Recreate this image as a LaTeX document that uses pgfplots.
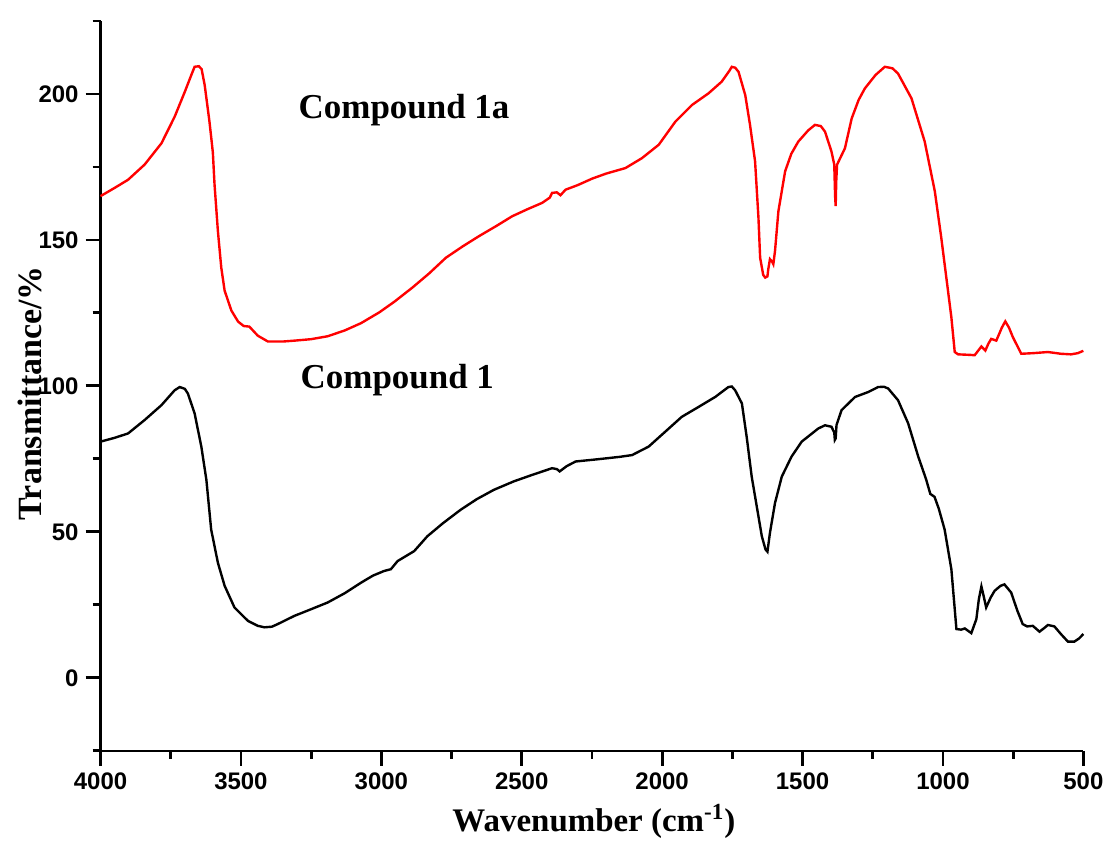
\documentclass[border=0pt]{standalone}
\usepackage{fontspec}
\setmainfont{Liberation Serif}
\setsansfont{Liberation Sans}
\usepackage{pgfplots}
\pgfplotsset{compat=1.18}
\begin{document}
\begin{tikzpicture}
\begin{axis}[
  name=ax,
  scale only axis,
  width=492.2pt, height=365.5pt,
  x dir=reverse,
  xmin=500, xmax=4000,
  ymin=-25, ymax=225,
  xtick={500,1000,...,4000},
  ytick={0,50,100,150,200},
  minor xtick={750,1250,...,3750},
  minor ytick={-25,25,75,125,175,225},
  axis x line*=bottom,
  axis y line*=left,
  axis line style={-, line width=1.1pt},
  tick align=outside,
  major tick length=7.5pt,
  minor tick length=4pt,
  every major tick/.append style={line width=1.4pt, draw=black},
  every minor tick/.append style={line width=1.4pt, draw=black},
  /pgf/number format/1000 sep={},
  /pgf/number format/assume math mode=true,
  tick label style={font=\fontsize{12}{14}\selectfont\bfseries\sffamily},
  xlabel={\textbf{Wavenumber (cm\textsuperscript{-1})}},
  ylabel={\textbf{Transmittance/\%}},
  xlabel style={font=\fontsize{16.5}{18}\selectfont, at={(axis description cs:0.502,-0.097)}, anchor=center},
  ylabel style={font=\fontsize{17}{19}\selectfont, at={(axis description cs:-0.072,0.49)}, anchor=center},
  clip=false,
]
\addplot[red, line width=1.2pt] coordinates {
(4000,165.0)(3950,167.8)(3902,170.6)(3843,175.8)(3783,183.1)(3736,192.2)(3700,200.7)(3677,206.4)(3665,209.3)(3650,209.5)(3640,208.5)(3629,203)(3612,190.5)(3600,180)(3594,169)(3582,153)(3570,140.5)(3558,132.6)(3534,125.8)(3510,122)(3490,120.5)(3470,120.3)(3440,117.2)(3404,115.2)(3350,115.2)(3309,115.5)(3250,116)(3191,117)(3130,119)(3072,121.5)(3007,125.2)(2954,128.8)(2889,133.7)(2830,138.5)(2770,143.9)(2710,147.8)(2652,151.3)(2590,154.8)(2534,158.1)(2480,160.5)(2427,162.7)(2400,164.5)(2392,166.1)(2375,166.3)(2362,165.3)(2344,167.2)(2300,168.8)(2249,171)(2200,172.7)(2131,174.6)(2072,178)(2012,182.6)(1953,190.5)(1894,196.2)(1835,200.2)(1788,204.2)(1760,208)(1752,209.3)(1740,209)(1728,207.6)(1704,199.6)(1687,189.4)(1669,176.9)(1657,157.6)(1651,143.9)(1640,138)(1633,137.1)(1625,137.5)(1622,140)(1616,143.4)(1608,142.5)(1604,141.7)(1598,146.2)(1586,159.8)(1562,173.5)(1540,179.5)(1515,183.7)(1480,187.5)(1456,189.4)(1435,189)(1420,187.1)(1397,180.3)(1387,175.8)(1384,165)(1382,161.6)(1380,170)(1377,175.8)(1349,181.4)(1325,191.6)(1300,198)(1278,201.9)(1240,206.5)(1207,209.3)(1180,208.8)(1160,207)(1112,198.5)(1065,183.7)(1029,166.7)(1006,150.8)(982,132.6)(970,123.5)(958,111.6)(946,110.8)(900,110.6)(887,110.5)(863,113.5)(849,112.1)(838,114.5)(828,116.1)(810,115.5)(790,120)(778,122.1)(765,120)(751,116.7)(721,111)(680,111.2)(626,111.6)(580,111)(544,110.8)(520,111.2)(500,112)
};
\addplot[black, line width=1.2pt] coordinates {
(4000,80.9)(3950,82.2)(3902,83.7)(3843,88.3)(3783,93.4)(3736,98.5)(3718,99.6)(3700,99)(3689,97.4)(3665,90.6)(3641,79.2)(3623,67.8)(3606,50.8)(3582,39.4)(3558,31.5)(3523,24.1)(3475,19.5)(3440,17.8)(3416,17.3)(3390,17.5)(3369,18.4)(3310,21.2)(3250,23.5)(3191,25.8)(3130,29)(3072,32.6)(3030,35)(2990,36.6)(2966,37.2)(2942,40)(2883,43.4)(2836,48.5)(2780,53)(2717,57.6)(2660,61.2)(2599,64.4)(2528,67.3)(2463,69.5)(2392,71.8)(2375,71.5)(2365,70.7)(2340,72.5)(2308,74.1)(2226,74.9)(2150,75.7)(2107,76.3)(2048,79.2)(1989,84.3)(1930,89.4)(1870,92.8)(1811,96.2)(1764,99.6)(1752,99.8)(1740,98.5)(1716,94)(1699,82.6)(1681,68.9)(1663,58.7)(1645,48.5)(1632,44)(1625,43.2)(1616,49.7)(1598,59.9)(1574,68.9)(1539,75.8)(1503,80.9)(1444,85.4)(1420,86.5)(1397,86)(1387,84)(1385,81.5)(1382,82)(1379,86.6)(1361,91.7)(1313,96.2)(1266,97.9)(1231,99.6)(1210,99.7)(1195,99.1)(1160,95.1)(1124,87.2)(1088,75.8)(1060,68)(1045,63)(1030,62)(1015,58)(994,50.8)(970,37.2)(952,16.7)(935,16.5)(922,16.9)(899,15.3)(881,20.1)(872,27)(863,31.3)(855,28)(846,24.1)(830,27.5)(816,29.8)(795,31.5)(781,32)(757,29.2)(735,23)(716,18.4)(700,17.6)(680,17.8)(656,15.8)(640,17)(626,18.1)(603,17.6)(580,15)(555,12.4)(532,12.4)(515,13.5)(500,15)
};
\node[font=\fontsize{17.5}{19}\selectfont\bfseries, anchor=center] at (axis cs:2919,194.6) {Compound 1a};
\node[font=\fontsize{17.5}{19}\selectfont\bfseries, anchor=center] at (axis cs:2943,101.9) {Compound 1};
\end{axis}
\path ([shift={(-50.35pt,-45pt)}]ax.south west) rectangle ([shift={(12.5pt,10.5pt)}]ax.north east);
\end{tikzpicture}
\end{document}
